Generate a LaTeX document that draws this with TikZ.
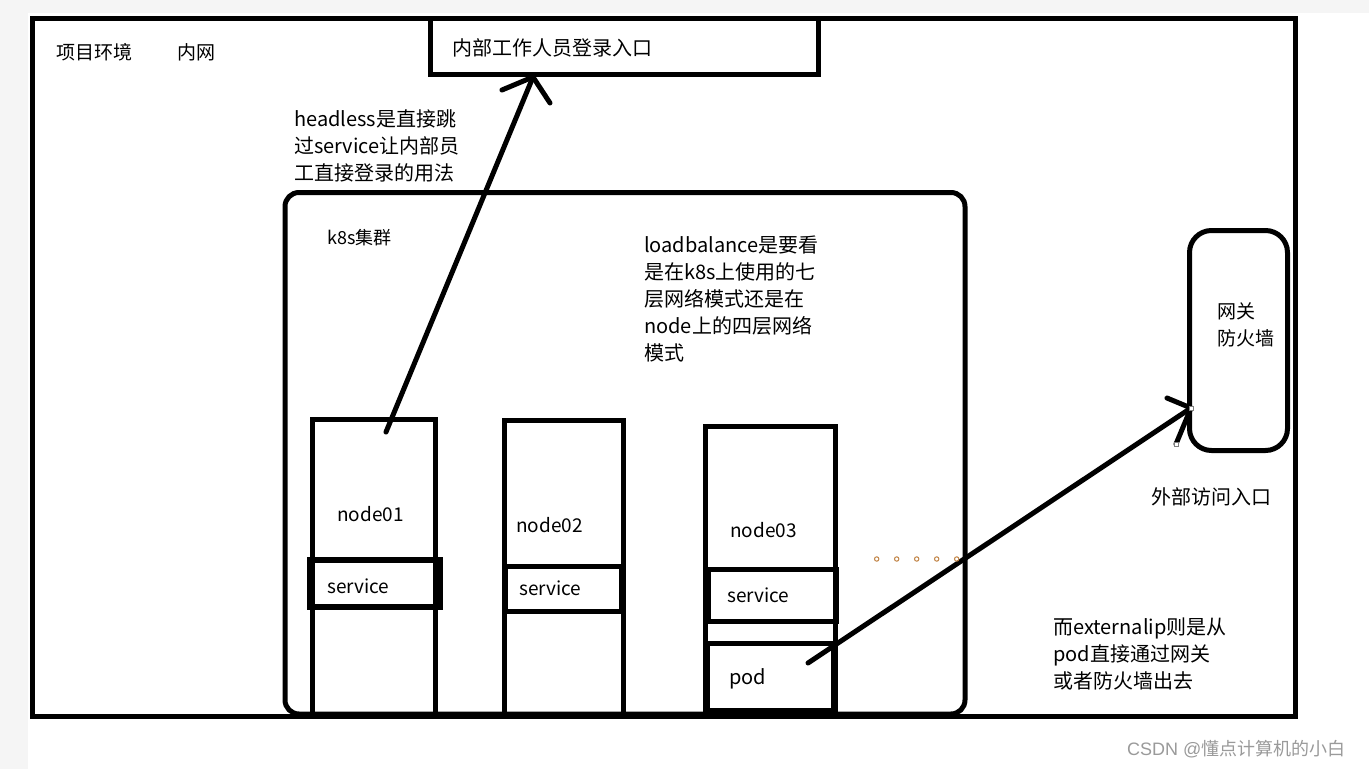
\documentclass[tikz,border=0pt]{standalone}
\usepackage{fontspec}
\setmainfont{Noto Sans CJK SC}
\newfontfamily\latinwm{Liberation Sans}
\definecolor{bggray}{HTML}{F5F5F5}
\definecolor{dotcol}{HTML}{C08040}
\definecolor{wmgray}{HTML}{9A9A9A}
\tikzset{
  box/.style={draw, line width=5pt, inner sep=0pt, outer sep=0pt, anchor=north west},
  rbox/.style={box, rounded corners=#1},
  heavy/.style={line width=5pt, line cap=round, line join=round},
  txt/.style={anchor=west, inner sep=0pt, align=left, font=\fontsize{20}{27}\selectfont},
  stxt/.style={anchor=west, inner sep=0pt, font=\fontsize{19}{24}\selectfont},
  handle/.style={draw=gray, fill=white, line width=0.8pt, minimum size=4pt, inner sep=0pt},
  dotmark/.style={draw=dotcol, line width=1pt}
}
\begin{document}
\begin{tikzpicture}[x=1pt,y=-1pt]
\useasboundingbox (0,0) rectangle (1369,769);
\fill[bggray] (0,0) rectangle (1369,769);
\fill[white] (28,13) rectangle (1369,769);

% frames
\node[box, minimum width=1262.5, minimum height=697.5] (env) at (32.5,18.5) {};
\node[box, minimum width=388, minimum height=55.5] (login) at (430,18.5) {};
\node[rbox=14pt, minimum width=680, minimum height=521.5] (k8s) at (285,192.5) {};
\node[rbox=22pt, minimum width=98, minimum height=220] (gw) at (1189.5,230.5) {};

% nodes
\node[box, minimum width=123, minimum height=296.5] (n1) at (312.5,419.5) {};
\node[box, minimum width=119, minimum height=295.5] (n2) at (504.5,420.5) {};
\node[box, minimum width=130, minimum height=290] (n3) at (705.5,426) {};

% services and pod
\node[box, line width=6pt, minimum width=130, minimum height=47] (s1) at (309.5,559.5) {};
\node[box, minimum width=116.5, minimum height=44.5] (s2) at (505,566.5) {};
\node[box, minimum width=128, minimum height=51.5] (s3) at (708,569.5) {};
\node[box, minimum width=126, minimum height=67] (pod) at (707,643) {};

% arrows
\coordinate (a1s) at (386,432);
\coordinate (a1t) at (533,77);
\draw[heavy] (a1s) -- (a1t);
\draw[heavy] (a1t) -- ++(-31,13) (a1t) -- ++(17,26);

\coordinate (a2s) at (808,663);
\coordinate (a2t) at (1191,408);
\draw[heavy] (a2s) -- (a2t);
\draw[heavy] (a2t) -- ++(-24,-10) (a2t) -- ++(-15,36);
\node[handle] (h1) at (a2t) {};
\node[handle] (h2) at (1176,444) {};

% dots
\foreach \i in {0,...,4} {
  \draw[dotmark] (876.7+20*\i,559) circle (2.2pt);
}

% texts
\node[txt, font=\fontsize{19}{24}\selectfont] (t1) at (56,52) {项目环境};
\node[txt, font=\fontsize{19}{24}\selectfont] (t2) at (177,52) {内网};
\node[txt] (tl) at (452,48) {内部工作人员登录入口};
\node[txt] (th) at (294,146) {headless是直接跳\\过service让内部员\\工直接登录的用法};
\node[txt, font=\fontsize{18}{24}\selectfont] (tk) at (327,238) {k8s集群};
\node[txt] (tlb) at (644,299) {loadbalance是要看\\是在k8s上使用的七\\层网络模式还是在\\node上的四层网络\\模式};
\node[txt, font=\fontsize{19}{27}\selectfont] (tg) at (1217,324.5) {网关\\防火墙};
\node[txt] (tout) at (1151,497) {外部访问入口};
\node[txt] (tex) at (1053,653.5) {而externalip则是从\\pod直接通过网关\\或者防火墙出去};

\node[stxt] (ln1) at (337,514) {node01};
\node[stxt] (ln2) at (516,525) {node02};
\node[stxt] (ln3) at (730,530) {node03};
\node[stxt] (ls1) at (327,586) {service};
\node[stxt] (ls2) at (519,588.5) {service};
\node[stxt] (ls3) at (727,595.5) {service};
\node[stxt, font=\fontsize{20}{24}\selectfont] (lp) at (729,679) {pod};

\node[anchor=west, inner sep=0pt, text=wmgray, font=\fontsize{18}{22}\selectfont] (wm) at (1127,749) {{\latinwm CSDN @}懂点计算机的小白};
\end{tikzpicture}
\end{document}
